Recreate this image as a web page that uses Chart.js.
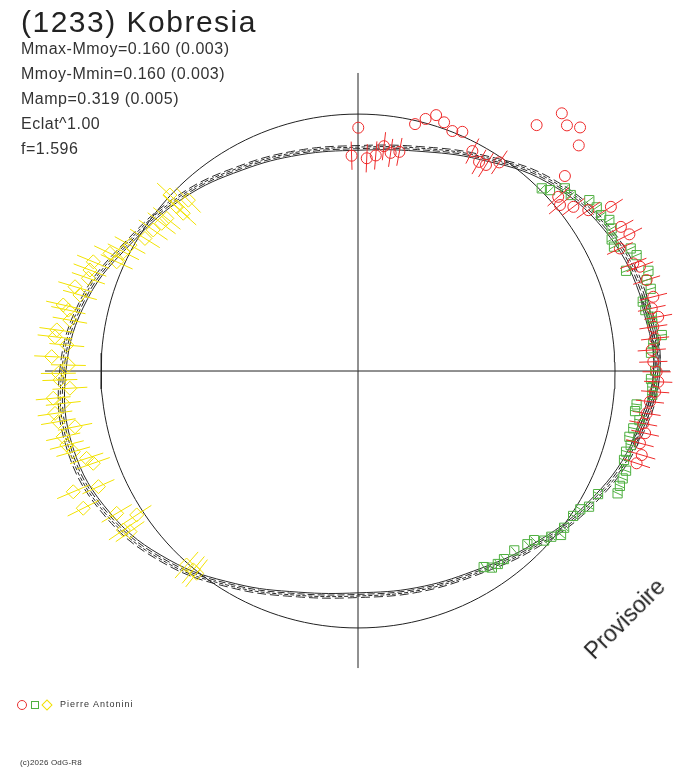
<!DOCTYPE html>
<html>
<head>
<meta charset="utf-8">
<title>(1233) Kobresia</title>
<script src="https://cdn.jsdelivr.net/npm/chart.js@4.4.1/dist/chart.umd.min.js"></script>
<style>
  html, body { margin: 0; padding: 0; background: #fff; }
  #wrap { position: relative; width: 688px; height: 768px; overflow: hidden;
          font-family: "Liberation Sans", Arial, sans-serif; color: #222; }
  #c { position: absolute; left: 0; top: 0; }
  .txt { position: absolute; white-space: nowrap; line-height: 1; }
  .title { left: 21px; top: 7px; font-size: 30px; letter-spacing: 1.5px; }
  .info { left: 21px; font-size: 16px; letter-spacing: 0.5px; color: #333; }
  .mk { position: absolute; box-sizing: border-box; }
  .legtxt { left: 60px; top: 700px; font-size: 9px; letter-spacing: 1px; color: #333; }
  .copy { left: 20px; top: 759px; font-size: 8px; letter-spacing: 0.2px; color: #333; }
  .prov { left: 625px; top: 619px; font-size: 23px; color: #222;
          transform: translate(-50%, -50%) rotate(-45deg); }
</style>
</head>
<body>
<div id="wrap">
  <canvas id="c" width="688" height="768"></canvas>
  <div class="txt title">(1233) Kobresia</div>
  <div class="txt info" style="top:41px">Mmax-Mmoy=0.160 (0.003)</div>
  <div class="txt info" style="top:66px">Mmoy-Mmin=0.160 (0.003)</div>
  <div class="txt info" style="top:91px">Mamp=0.319 (0.005)</div>
  <div class="txt info" style="top:116px">Eclat^1.00</div>
  <div class="txt info" style="top:141px">f=1.596</div>
  <div class="mk" style="left:17px;top:700px;width:10px;height:10px;border:1px solid #e83030;border-radius:50%"></div>
  <div class="mk" style="left:31px;top:701px;width:8px;height:8px;border:1px solid #4fb040"></div>
  <div class="mk" style="left:43px;top:701px;width:8px;height:8px;border:1px solid #f2e000;transform:rotate(45deg)"></div>
  <div class="txt legtxt">Pierre Antonini</div>
  <div class="txt copy">(c)2026 OdG-R8</div>
  <div class="txt prov">Provisoire</div>
</div>
<script>
// pixel frame of the plot: the unit circle has radius 257px, centred at (358,371)
const xMin = -1.393, xMax = 1.284;
const yMin = -1.545, yMax = 1.444;

// axes and fitted lightcurve (polar: angle in degrees, radius relative to the circle)
const axisH = [-1.218, 1.214];
const axisV = [-1.156, 1.160];
const curveAngles = [0, 15, 30, 45, 60, 75, 90, 105, 120, 135, 150, 165,
                     180, 195, 210, 225, 240, 255, 270, 285, 300, 315, 330, 345];
const curveRadius = [1.162, 1.148, 1.115, 1.050, 0.960, 0.895, 0.868, 0.880, 0.912, 0.965, 1.020, 1.100,
                     1.148, 1.160, 1.122, 1.050, 0.965, 0.900, 0.872, 0.882, 0.908, 0.966, 1.040, 1.112];
const curveScales = [0.990, 0.997, 1.004, 1.011];

// observations
const redOutX = [0.001, 0.222, 0.263, 0.304, 0.335, 0.367, 0.406, 0.695, 0.793, 0.813, 0.864, 0.859, 0.805];
const redOutY = [0.947, 0.961, 0.981, 0.996, 0.968, 0.934, 0.931, 0.957, 1.003, 0.956, 0.948, 0.878, 0.759];

const redX = [-0.025, 0.034, 0.069, 0.101, 0.127, 0.161, 0.445, 0.471, 0.498, 0.550,
              0.779, 0.786, 0.838, 0.896, 0.984, 1.023, 1.056, 1.019, 1.071, 1.097,
              1.123, 1.149, 1.143, 1.168, 1.149, 1.156, 1.143, 1.149, 1.162, 1.168,
              1.156, 1.136, 1.123, 1.110, 1.117, 1.097, 1.104, 1.084];
const redY = [0.838, 0.828, 0.839, 0.875, 0.849, 0.853, 0.856, 0.814, 0.802, 0.812,
              0.678, 0.646, 0.639, 0.626, 0.639, 0.561, 0.532, 0.477, 0.419, 0.406,
              0.354, 0.289, 0.244, 0.211, 0.172, 0.127, 0.082, 0.036, -0.003, -0.042,
              -0.081, -0.119, -0.165, -0.204, -0.242, -0.281, -0.327, -0.359];

const greenX = [0.715, 0.747, 0.805, 0.828, 0.900, 0.929, 0.946, 0.978, 0.987, 0.987,
                0.996, 1.061, 1.084, 1.043, 1.130, 1.123, 1.139, 1.108, 1.118, 1.143,
                1.145, 1.182, 1.149, 1.140, 1.156, 1.140, 1.145, 1.145, 1.084, 1.078,
                1.095, 1.071, 1.056, 1.061, 1.043, 1.035, 1.043, 1.030, 1.019, 1.010,
                0.934, 0.899, 0.865, 0.837, 0.802, 0.790, 0.752, 0.724, 0.685, 0.659,
                0.608, 0.568, 0.544, 0.521, 0.489];
const greenY = [0.711, 0.704, 0.711, 0.685, 0.665, 0.637, 0.607, 0.588, 0.555, 0.512,
                0.484, 0.477, 0.451, 0.390, 0.390, 0.354, 0.320, 0.270, 0.237, 0.211,
                0.186, 0.140, 0.108, 0.071, 0.001, -0.031, -0.063, -0.093, -0.130, -0.156,
                -0.191, -0.223, -0.256, -0.288, -0.314, -0.346, -0.388, -0.418, -0.447, -0.476,
                -0.479, -0.528, -0.538, -0.564, -0.610, -0.638, -0.645, -0.660, -0.658, -0.674,
                -0.698, -0.732, -0.751, -0.765, -0.763];

const yellowX = [-0.732, -0.660, -0.705, -0.680, -0.744, -0.764, -0.797, -0.829, -0.887, -0.913,
                 -0.965, -0.939, -1.030, -1.043, -1.049, -1.101, -1.082, -1.147, -1.127, -1.121,
                 -1.172, -1.179, -1.133, -1.192, -1.127, -1.166, -1.160, -1.121, -1.186, -1.147,
                 -1.179, -1.166, -1.101, -1.147, -1.133, -1.108, -1.056, -1.030, -1.108, -1.010,
                 -1.069, -0.939, -0.861, -0.913, -0.887, -0.667, -0.641, -0.628];
const yellowY = [0.685, 0.665, 0.639, 0.614, 0.594, 0.575, 0.549, 0.516, 0.490, 0.464,
                 0.458, 0.425, 0.425, 0.393, 0.361, 0.328, 0.296, 0.257, 0.237, 0.198,
                 0.160, 0.133, 0.101, 0.056, 0.023, -0.009, -0.035, -0.067, -0.106, -0.126,
                 -0.165, -0.197, -0.217, -0.256, -0.288, -0.314, -0.340, -0.359, -0.470, -0.450,
                 -0.534, -0.554, -0.560, -0.619, -0.625, -0.755, -0.774, -0.787];

// half length of the (radial) error bars
const redErr = 0.055, greenErr = 0.02, yellowErr = 0.068;

function toPts(xs, ys) {
  return xs.map((x, i) => ({ x: x, y: ys[i] }));
}

// closed loop, wrapped one step on each side so the spline joins smoothly
function curvePts(k) {
  const n = curveAngles.length;
  const pts = [];
  for (let i = -1; i <= n + 1; i++) {
    const j = (i + n) % n;
    const a = curveAngles[j] * Math.PI / 180;
    const r = curveRadius[j] * k;
    pts.push({ x: r * Math.cos(a), y: r * Math.sin(a) });
  }
  return pts;
}

const circlePts = [];
for (let i = 0; i <= 180; i++) {
  const a = i / 180 * 2 * Math.PI;
  circlePts.push({ x: Math.cos(a), y: Math.sin(a) });
}

const errorBars = {
  id: "errorBars",
  afterDatasetsDraw(chart) {
    const ctx = chart.ctx;
    const xs = chart.scales.x, ys = chart.scales.y;
    chart.data.datasets.forEach(ds => {
      if (!ds.errHalf) return;
      ctx.save();
      ctx.strokeStyle = ds.borderColor;
      ctx.lineWidth = 1;
      ctx.beginPath();
      ds.data.forEach(p => {
        const r = Math.hypot(p.x, p.y);
        const ux = p.x / r, uy = p.y / r;
        ctx.moveTo(xs.getPixelForValue(p.x - ux * ds.errHalf), ys.getPixelForValue(p.y - uy * ds.errHalf));
        ctx.lineTo(xs.getPixelForValue(p.x + ux * ds.errHalf), ys.getPixelForValue(p.y + uy * ds.errHalf));
      });
      ctx.stroke();
      ctx.restore();
    });
  }
};

const lineBase = { showLine: true, pointRadius: 0, borderWidth: 1, fill: false };
const dashes = [[], [7, 3], [4, 2], [9, 4]];

const datasets = [
  { label: "red", data: toPts(redX, redY), pointStyle: "circle", pointRadius: 5.5,
    borderColor: "#ee2a2a", backgroundColor: "rgba(0,0,0,0)", borderWidth: 1, errHalf: redErr },
  { label: "redOut", data: toPts(redOutX, redOutY), pointStyle: "circle", pointRadius: 5.5,
    borderColor: "#ee2a2a", backgroundColor: "rgba(0,0,0,0)", borderWidth: 1 },
  { label: "green", data: toPts(greenX, greenY), pointStyle: "rect", pointRadius: 6.5,
    borderColor: "#4fb040", backgroundColor: "rgba(0,0,0,0)", borderWidth: 1, errHalf: greenErr },
  { label: "yellow", data: toPts(yellowX, yellowY), pointStyle: "rectRot", pointRadius: 7,
    borderColor: "#f2e200", backgroundColor: "rgba(0,0,0,0)", borderWidth: 1, errHalf: yellowErr }
];

curveScales.forEach((k, i) => {
  datasets.push(Object.assign({}, lineBase, {
    label: "fit" + i, data: curvePts(k), tension: 0.4,
    borderColor: "#2a2a2a", borderDash: dashes[i]
  }));
});

datasets.push(Object.assign({}, lineBase, { label: "circle", data: circlePts, borderColor: "#222" }));
datasets.push(Object.assign({}, lineBase, { label: "axisH",
  data: [{ x: axisH[0], y: 0 }, { x: axisH[1], y: 0 }], borderColor: "#222" }));
datasets.push(Object.assign({}, lineBase, { label: "axisV",
  data: [{ x: 0, y: axisV[0] }, { x: 0, y: axisV[1] }], borderColor: "#222" }));

const ctx = document.getElementById("c").getContext("2d");
new Chart(ctx, {
  type: "scatter",
  data: { datasets: datasets },
  options: {
    responsive: false,
    animation: false,
    devicePixelRatio: 1,
    layout: { padding: 0, autoPadding: false },
    events: [],
    scales: {
      x: { type: "linear", min: xMin, max: xMax, display: false },
      y: { type: "linear", min: yMin, max: yMax, display: false }
    },
    plugins: {
      legend: { display: false },
      tooltip: { enabled: false }
    }
  },
  plugins: [errorBars]
});
</script>
</body>
</html>
